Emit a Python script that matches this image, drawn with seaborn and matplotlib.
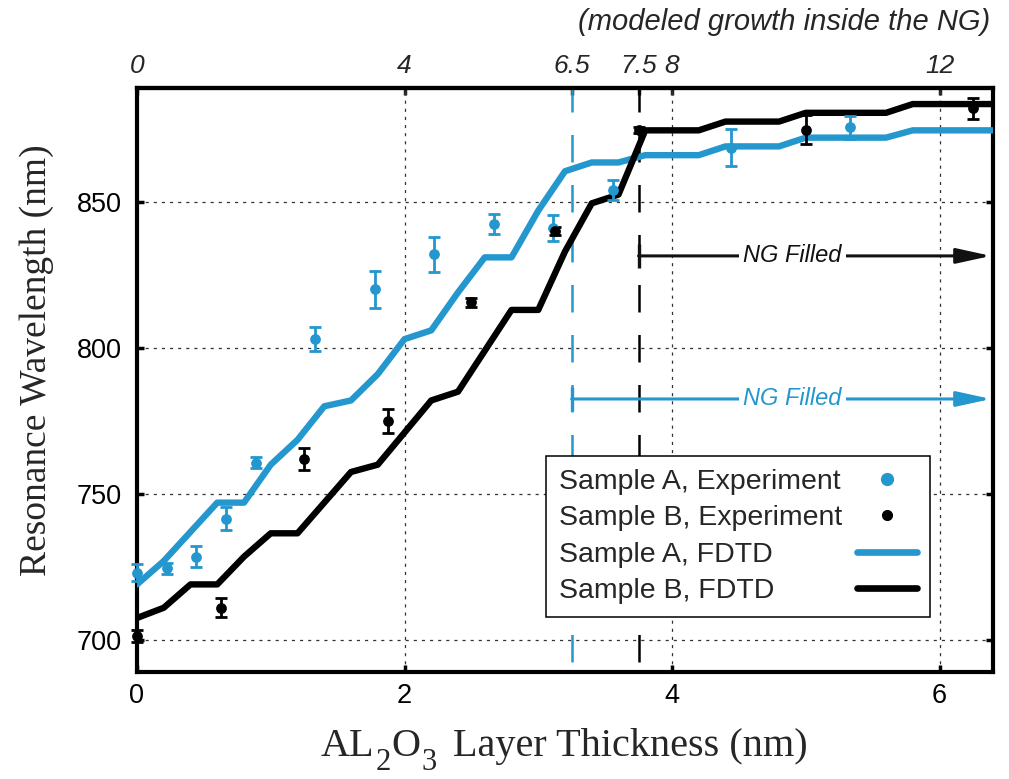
import matplotlib
matplotlib.use("Agg")
import matplotlib.pyplot as plt
import seaborn as sns
import numpy as np
import pandas as pd
from matplotlib.lines import Line2D

# ---------------- data ----------------
fdtd_x = [0.0, 0.2, 0.4, 0.6, 0.8, 1.0, 1.2, 1.4, 1.6, 1.8, 2.0, 2.2, 2.4, 2.6, 2.8,
          3.0, 3.2, 3.4, 3.6, 3.8, 4.0, 4.2, 4.4, 4.6, 4.8, 5.0, 5.2, 5.4, 5.6, 5.8,
          6.0, 6.2, 6.4]
fdtd_a = [719, 727, 737, 747, 747, 760, 768.5, 780, 782, 791, 803, 806, 819, 831, 831,
          847, 860.5, 863.5, 863.5, 866, 866, 866, 869, 869, 869, 872, 872, 872, 872,
          874.5, 874.5, 874.5, 874.5]
fdtd_b = [707.5, 711, 719, 719, 728.5, 736.5, 736.5, 747, 757.5, 760, 771, 782, 785, 799,
          813, 813, 833, 849.5, 852.5, 874.5, 874.5, 874.5, 877.5, 877.5, 877.5, 880.5,
          880.5, 880.5, 880.5, 883.5, 883.5, 883.5, 883.5]

exp_a_x = [0.0, 0.222, 0.444, 0.667, 0.889, 1.333, 1.778, 2.222, 2.667, 3.111, 3.556, 4.444, 5.333]
exp_a_y = [723, 724.5, 728.5, 741.5, 760.7, 803, 820, 832, 842.5, 841, 854, 868.5, 875.5]
exp_a_err = [3, 2, 3.5, 4, 2, 4, 6.5, 6, 3.5, 4.5, 3.5, 6.3, 4]

exp_b_x = [0.0, 0.625, 1.25, 1.875, 2.5, 3.125, 3.75, 5.0, 6.25]
exp_b_y = [701.4, 711, 762, 775, 815.6, 840, 874.7, 874.7, 882]
exp_b_err = [2, 3.3, 3.7, 4, 1.5, 1.5, 1, 5, 3.5]

bottom_ticks = [0, 2, 4, 6]
y_ticks = [700, 750, 800, 850]
top_ticks = [0, 4, 6.5, 7.5, 8, 12]
top_labels = ["0", "4", "6.5", "7.5", "8", "12"]
fill_top_a = 6.5   # modeled thickness where Sample A NG is filled
fill_top_b = 7.5   # modeled thickness where Sample B NG is filled
arrow_y_a = 782.5
arrow_y_b = 831.5

labels = ["Sample A, Experiment", "Sample B, Experiment", "Sample A, FDTD", "Sample B, FDTD"]

BLUE = "#2397CE"
BLACK = "#000000"

# ---------------- style ----------------
sns.set_theme(style="white")
plt.rcParams["font.family"] = ["Liberation Sans", "DejaVu Sans"]
plt.rcParams["axes.edgecolor"] = "black"

W, H = 1009, 779
fig = plt.figure(figsize=(W / 100, H / 100), dpi=100)
ax = fig.add_axes([137 / W, 1 - 672 / H, (993 - 137) / W, (672 - 88) / H])

df_fdtd = pd.DataFrame({"x": fdtd_x, "A": fdtd_a, "B": fdtd_b})
sns.lineplot(data=df_fdtd, x="x", y="A", color=BLUE, linewidth=4.6, ax=ax, zorder=3)
sns.lineplot(data=df_fdtd, x="x", y="B", color=BLACK, linewidth=4.6, ax=ax, zorder=3)

eb = ax.errorbar(exp_a_x, exp_a_y, yerr=exp_a_err, fmt="none", ecolor=BLUE,
                 elinewidth=2.0, capsize=4, capthick=2.0, zorder=4)
for art in eb.lines[1] + eb.lines[2]:
    art.set_clip_on(False)
sns.scatterplot(x=exp_a_x, y=exp_a_y, color=BLUE, s=60, linewidth=0, ax=ax,
                zorder=5, clip_on=False)
eb = ax.errorbar(exp_b_x, exp_b_y, yerr=exp_b_err, fmt="none", ecolor=BLACK,
                 elinewidth=2.0, capsize=4, capthick=2.0, zorder=4)
for art in eb.lines[1] + eb.lines[2]:
    art.set_clip_on(False)
sns.scatterplot(x=exp_b_x, y=exp_b_y, color=BLACK, s=60, linewidth=0, ax=ax,
                zorder=5, clip_on=False)

ax.set_xlim(0, 6.4)
ax.set_ylim(689, 889)

# vertical dashed fill-onset lines
ax.vlines(fill_top_a / 2, 692.5, 889, colors=BLUE, linestyles=(0, (11, 9)),
          linewidth=1.8, zorder=2)
ax.vlines(fill_top_b / 2, 692.5, 889, colors=BLACK, linestyles=(0, (11, 9)),
          linewidth=1.8, zorder=2)

# arrows "NG Filled"
for x0, yv, col in [(fill_top_b / 2, arrow_y_b, "#111111"), (fill_top_a / 2, arrow_y_a, BLUE)]:
    ax.annotate("", xy=(6.385, yv), xytext=(x0, yv), xycoords="data",
                arrowprops=dict(arrowstyle="-|>,head_length=1.05,head_width=0.23",
                                color=col, lw=2.2, shrinkA=0, shrinkB=0,
                                mutation_scale=20), zorder=3)
    ax.plot([x0], [yv], marker="|", markersize=17, markeredgewidth=2.4,
            color=col, zorder=3)
    ax.text(4.9, yv, "NG Filled", ha="center", va="center", color=col,
            fontstyle="italic", fontsize=17, zorder=6,
            bbox=dict(facecolor="white", edgecolor="none", pad=3))

# grid
ax.grid(True, linestyle=(0, (2.5, 4)), linewidth=0.9, color="0.2")
ax.set_axisbelow(True)

ax.set_xticks(bottom_ticks)
ax.set_xticklabels([str(t) for t in bottom_ticks])
ax.set_yticks(y_ticks)
ax.set_yticklabels([str(t) for t in y_ticks])
ax.tick_params(axis="both", which="major", direction="in", length=5, width=2.5,
               labelsize=19.5, colors="black", right=True, top=False, left=True, bottom=True)
ax.tick_params(axis="x", pad=8)
ax.tick_params(axis="y", pad=11)
for sp in ax.spines.values():
    sp.set_linewidth(3)
    sp.set_color("black")
ax.set_xlabel("")
ax.set_ylabel("")

secax = ax.secondary_xaxis("top", functions=(lambda x: 2 * x, lambda x: x / 2))
secax.set_xticks(top_ticks, top_labels)
secax.tick_params(axis="x", direction="in", length=5, width=2.5, labelsize=19, pad=7)
for lab in secax.get_xticklabels():
    lab.set_fontstyle("italic")
secax.spines["top"].set_linewidth(3)

# legend
handles = [Line2D([], [], marker="o", linestyle="none", color=BLUE, markersize=8.5),
           Line2D([], [], marker="o", linestyle="none", color=BLACK, markersize=7),
           Line2D([], [], color=BLUE, linewidth=4.8),
           Line2D([], [], color=BLACK, linewidth=4.8)]
leg = ax.legend(handles, labels, loc="lower right",
                bbox_to_anchor=((930 - 137) / 856, (672 - 617) / 584),
                borderaxespad=0, markerfirst=False, fontsize=20.5, frameon=True,
                fancybox=False, framealpha=1, edgecolor="black", labelspacing=0.37,
                handlelength=2.1, handletextpad=0.25, borderpad=0.45)
leg.get_frame().set_linewidth(1.1)
leg.set_zorder(10)

renderer = fig.canvas.get_renderer()
# left-align legend texts while keeping handles in a right-hand column
try:
    col = leg._legend_handle_box.get_children()[0]
    items = col.get_children()
    wmax = max(it.get_bbox(renderer).width for it in items) + 8
    for it in items:
        it.mode = "expand"
        it.width = wmax
except Exception:
    pass

# axis labels as figure text
serif = ["Liberation Serif", "DejaVu Serif"]
fig.text(37 / W, 1 - 360 / H, "Resonance Wavelength (nm)", rotation=90,
         ha="center", va="center", fontsize=27, family=serif)

x = 321.0
base = 756.0
for s, dy, fs in [("AL", 0, 29), ("2", 14, 22), ("O", 0, 29), ("3", 14, 22)]:
    t = fig.text(x / W, 1 - (base + dy) / H, s, fontsize=fs, family=serif,
                 ha="left", va="baseline")
    x = t.get_window_extent(renderer).x1 + 1
fig.text((x + 15) / W, 1 - base / H, "Layer Thickness (nm)", fontsize=29,
         family=serif, ha="left", va="baseline")

fig.text(990 / W, 1 - 22 / H, "(modeled growth inside the NG)", ha="right",
         va="center", fontstyle="italic", fontsize=21)

fig.savefig("out.png", dpi=100)
